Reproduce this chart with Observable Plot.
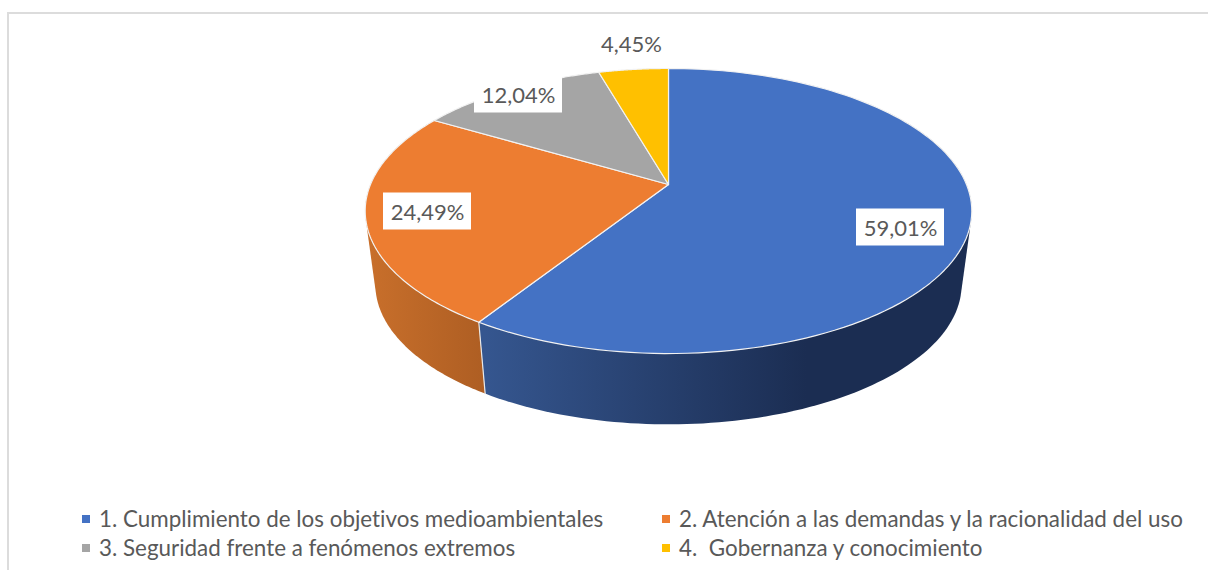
<!DOCTYPE html>
<html lang="es">
<head>
<meta charset="utf-8">
<script src="https://cdn.jsdelivr.net/npm/d3@7"></script>
<script src="https://cdn.jsdelivr.net/npm/@observablehq/plot@0.6"></script>
<style>
  html, body { margin: 0; padding: 0; background: #fff; width: 1208px; height: 570px; overflow: hidden; position: relative; }
  #frame { position: absolute; left: 7px; top: 12px; right: 0; bottom: 0; border-left: 2px solid #dcdcdc; border-top: 2px solid #dcdcdc; }
  #chart { position: absolute; left: 0; top: 0; }
  #chart svg { display: block; background: transparent; }
  #legend { position: absolute; left: 0; top: 505px; width: 1208px; font-family: Lato, sans-serif; font-size: 22.4px; font-variant-ligatures: none; color: #595959; }
  .item { position: absolute; white-space: pre; line-height: 28px; height: 28px; }
  .item i { position: absolute; left: -17px; top: 10px; width: 8px; height: 8px; }
</style>
</head>
<body>
<div id="frame"></div>
<div id="chart"></div>
<div id="legend"></div>
<script>
const categories = [
  "1. Cumplimiento de los objetivos medioambientales",
  "2. Atención a las demandas y la racionalidad del uso",
  "3. Seguridad frente a fenómenos extremos",
  "4.  Gobernanza y conocimiento"
];
const shares = [59.01, 24.49, 12.04, 4.45];
const shareLabels = ["59,01%", "24,49%", "12,04%", "4,45%"];
const colors = ["#4472C4", "#ED7D31", "#A5A5A5", "#FFC000"];

// Layout of the tilted disc (perspective projection of a circle).
const top3d = {cx: 668, cy: 184, a: 137.6, b: 298, p: 0.186};
const bottom3d = {cx: 668, cy: 258, a: 135, b: 288, p: 0.186};
const labelRadius = [0.793, 0.803, 0.94, 1.27];
const labelTurn = [5.8, 0, 0, 1];
const labelBoxW = [88, 88, 88, 76];
const labelBoxH = 37;

const total = d3.sum(shares);
const project = (disc, deg, r = 1) => {
  const t = deg * Math.PI / 180, w = 1 + disc.p * r * Math.cos(t);
  return {x: disc.cx + disc.b * r * Math.sin(t) / w, y: disc.cy - disc.a * r * Math.cos(t) / w};
};
const arcDeg = (from, to) => d3.range(0, 121).map(i => from + (to - from) * i / 120);

let acc = 0;
const slices = shares.map((s, i) => {
  const start = acc; acc += s / total * 360;
  return {i, start, end: acc, mid: (start + acc) / 2};
});
slices[3].end = 360;

const topPath = s => {
  const c = {x: top3d.cx, y: top3d.cy};
  return [c, ...arcDeg(s.start, s.end).map(d => project(top3d, d)), c];
};
// Outer hull of the upper and lower rim, so the straight tangent edges of the drum are filled.
const sidePath = (from, to) => {
  const rim = [...arcDeg(from, to).map(d => project(top3d, d)), ...arcDeg(from, to).map(d => project(bottom3d, d))];
  const hull = d3.polygonHull(rim.map(p => [p.x, p.y])).map(([x, y]) => ({x, y}));
  return [...hull, hull[0]];
};

const labels = slices.map(s => {
  const p = project(top3d, s.mid + labelTurn[s.i], labelRadius[s.i]);
  const cx = Math.round(p.x), cy = Math.round(p.y);
  const w = labelBoxW[s.i];
  return {text: shareLabels[s.i], cx, cy,
    x1: cx - w / 2, x2: cx + w / 2, y1: cy - labelBoxH / 2, y2: cy + labelBoxH / 2};
});

const xy = {x: "x", y: "y"};
const divider = [project(top3d, slices[0].end), project(bottom3d, slices[0].end)];

const chart = Plot.plot({
  width: 1208, height: 500,
  margin: 0,
  x: {domain: [0, 1208], range: [0, 1208], axis: null},
  y: {domain: [0, 500], range: [0, 500], axis: null},
  marks: [
    Plot.line(sidePath(55, slices[0].end), {...xy, fill: "url(#sideBlue)", stroke: "none"}),
    Plot.line(sidePath(slices[0].end, slices[1].end), {...xy, fill: "url(#sideOrange)", stroke: "none"}),
    Plot.line(divider, {...xy, stroke: "#e8e8e8", strokeWidth: 1.2}),
    ...slices.map(s => Plot.line(topPath(s), {...xy, fill: colors[s.i], stroke: "#f2f2f2", strokeWidth: 1.2})),
    Plot.rect(labels, {x1: "x1", x2: "x2", y1: "y1", y2: "y2", fill: "#fff"}),
    Plot.text(labels, {x: "cx", y: "cy", text: "text", fill: "#595959", fontSize: 22,
      fontFamily: "Lato, sans-serif", textAnchor: "middle", lineAnchor: "middle", dy: 1})
  ]
});

const svg = d3.select(chart.tagName.toLowerCase() === "svg" ? chart : chart.querySelector("svg"));
const defs = svg.insert("defs", ":first-child");
const gradient = (id, x1, x2, stops) => {
  const g = defs.append("linearGradient").attr("id", id).attr("gradientUnits", "userSpaceOnUse")
    .attr("x1", x1).attr("x2", x2).attr("y1", 0).attr("y2", 0);
  stops.forEach(([o, c]) => g.append("stop").attr("offset", o).attr("stop-color", c));
};
gradient("sideBlue", 484, 972, [[0, "#35568f"], [0.66, "#1b2d52"], [1, "#1b2d52"]]);
gradient("sideOrange", 368, 484, [[0, "#c86f2b"], [1, "#ae5e23"]]);
document.getElementById("chart").append(chart);

const legendAt = [[99, 0], [679, 0], [99, 29], [679, 29]];
const legend = d3.select("#legend");
categories.forEach((c, i) => {
  const item = legend.append("div").attr("class", "item")
    .style("left", legendAt[i][0] + "px").style("top", legendAt[i][1] + "px");
  item.append("i").style("background", colors[i]);
  item.append("span").text(c);
});
</script>
</body>
</html>
